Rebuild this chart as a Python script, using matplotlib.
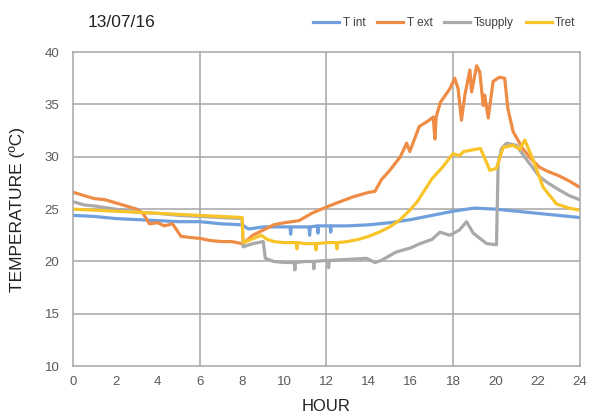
import matplotlib.pyplot as plt

plt.rcParams['font.family'] = ['Liberation Sans', 'DejaVu Sans']

# values (hour, temperature in ºC)
tint_h = [0, 1, 2, 3, 4, 5, 6, 7, 8, 8.3, 9, 10, 10.27, 10.3, 10.33, 11, 11.17, 11.2, 11.23,
          11.57, 11.6, 11.63, 12, 12.17, 12.2, 12.23, 13, 14, 15, 16, 17, 18, 19, 20, 21, 22, 23, 24]
tint_v = [24.4, 24.3, 24.1, 24.0, 23.9, 23.8, 23.8, 23.6, 23.5, 23.1, 23.3, 23.3, 23.3, 22.6, 23.3, 23.3, 23.3, 22.5, 23.3,
          23.4, 22.7, 23.4, 23.4, 23.4, 22.8, 23.4, 23.4, 23.5, 23.7, 24.0, 24.4, 24.8, 25.1, 25.0, 24.8, 24.6, 24.4, 24.2]

text_h = [0, 0.5, 1, 1.5, 2, 2.5, 3, 3.3, 3.6, 4, 4.3, 4.7, 4.9, 5.1, 5.5, 6, 6.5, 7, 7.5, 8, 8.1,
          8.5, 9, 9.5, 10, 10.7, 11.3, 12, 12.5, 13.3, 14, 14.3, 14.6, 15, 15.5, 15.8, 15.95, 16.4, 16.8,
          17.06, 17.14, 17.2, 17.4, 17.85, 18.08, 18.24, 18.4, 18.56, 18.8, 18.88, 19.12, 19.27, 19.43,
          19.5, 19.67, 19.9, 20.2, 20.45, 20.6, 20.85, 21.3, 21.7, 22.1, 22.5, 23, 23.5, 24]
text_v = [26.6, 26.3, 26.0, 25.9, 25.6, 25.3, 25.0, 24.6, 23.6, 23.7, 23.4, 23.6, 23.0, 22.4, 22.3, 22.2, 22.0, 21.9, 21.9, 21.7, 21.8,
          22.5, 23.0, 23.5, 23.7, 23.9, 24.6, 25.2, 25.6, 26.2, 26.6, 26.7, 27.8, 28.7, 30.0, 31.3, 30.5, 32.9, 33.4,
          33.8, 31.7, 33.8, 35.2, 36.5, 37.5, 36.5, 33.5, 35.9, 38.3, 36.2, 38.7, 38.1, 34.9,
          35.9, 33.7, 37.2, 37.6, 37.5, 34.6, 32.4, 30.8, 29.8, 29.0, 28.6, 28.2, 27.7, 27.1]

tsup_h = [0, 0.5, 1, 2, 3, 4, 5, 6, 7, 8.0, 8.05, 8.5, 9.0, 9.1, 9.5, 10, 10.47, 10.5, 10.53, 11,
          11.37, 11.4, 11.43, 12, 12.07, 12.1, 12.13, 13, 13.9, 14.3, 14.6, 15.3, 16, 16.43, 17, 17.38,
          17.85, 18.3, 18.64, 18.96, 19.6, 20.06, 20.14, 20.3, 20.54, 21.0, 21.5, 22.1, 22.5, 23.06, 23.5, 24]
tsup_v = [25.7, 25.4, 25.3, 25.0, 24.7, 24.6, 24.4, 24.3, 24.2, 24.1, 21.4, 21.7, 21.9, 20.3, 20.0, 19.9, 19.9, 19.2, 19.9, 20.0,
          20.0, 19.3, 20.0, 20.1, 20.1, 19.4, 20.1, 20.2, 20.3, 19.9, 20.1, 20.9, 21.3, 21.7, 22.1, 22.8,
          22.5, 23.0, 23.8, 22.7, 21.7, 21.6, 29.4, 30.8, 31.3, 31.1, 29.7, 28.1, 27.5, 26.8, 26.3, 25.9]

tret_h = [0, 1, 2, 3, 4, 5, 6, 7, 8.0, 8.05, 8.3, 8.9, 9.2, 9.5, 10, 10.57, 10.6, 10.63, 11, 11.47,
          11.5, 11.53, 12, 12.47, 12.5, 12.53, 13, 13.5, 14, 14.5, 15, 15.5, 16, 16.3, 17, 17.5, 18.0,
          18.3, 18.5, 19.3, 19.75, 20.06, 20.38, 20.85, 21.17, 21.4, 21.8, 22.27, 22.9, 23.5, 24]
tret_v = [25.0, 24.9, 24.8, 24.7, 24.6, 24.5, 24.4, 24.3, 24.2, 21.8, 22.0, 22.5, 22.1, 21.9, 21.8, 21.8, 21.2, 21.8, 21.7, 21.7,
          21.1, 21.7, 21.8, 21.8, 21.2, 21.8, 21.9, 22.1, 22.4, 22.8, 23.3, 24.0, 25.0, 25.7, 27.9, 29.0, 30.3,
          30.1, 30.5, 30.8, 28.7, 28.9, 30.9, 31.1, 30.7, 31.6, 29.7, 27.1, 25.5, 25.1, 24.9]

x_ticks = list(range(0, 25, 2))
y_ticks = [10, 15, 20, 25, 30, 35, 40]

fig = plt.figure(figsize=(5.92, 4.17), dpi=100)
ax = fig.add_axes([0.124, 0.122, 0.855, 0.753])

grid_col = '#a6a6a6'
for x in [6, 12, 18]:
    ax.axvline(x, color=grid_col, lw=1.1, zorder=0)
for y in y_ticks[1:-1]:
    ax.axhline(y, color=grid_col, lw=1.1, zorder=0)

ax.plot(tint_h, tint_v, color='#6f9fdc', lw=2.3, label='T int')
ax.plot(text_h, text_v, color='#ee8c45', lw=2.3, label='T ext')
ax.plot(tsup_h, tsup_v, color='#a9a9a9', lw=2.3, label='Tsupply')
ax.plot(tret_h, tret_v, color='#f8c42a', lw=2.3, label='Tret')

ax.set_xlim(0, 24)
ax.set_ylim(10, 40)
ax.set_xticks(x_ticks)
ax.set_yticks(y_ticks)
ax.tick_params(axis='x', length=0, labelsize=9.5, colors='#595959', pad=7)
ax.tick_params(axis='y', length=0, labelsize=9.5, colors='#595959', pad=10)
for s in ax.spines.values():
    s.set_color(grid_col)
    s.set_linewidth(1.1)

ax.set_xlabel('HOUR', fontsize=12, color='#222222', labelpad=8)
ax.set_ylabel('TEMPERATURE (ºC)', fontsize=12.5, color='#222222', labelpad=14)

fig.text(0.148, 0.935, '13/07/16', fontsize=12.5, color='#222222')
fig.legend(loc='upper right', bbox_to_anchor=(0.99, 0.985), ncol=4, frameon=False,
           fontsize=8.5, handlelength=2.2, handletextpad=0.3, columnspacing=1.0,
           labelcolor='#404040')

fig.savefig('out.png', dpi=100)
